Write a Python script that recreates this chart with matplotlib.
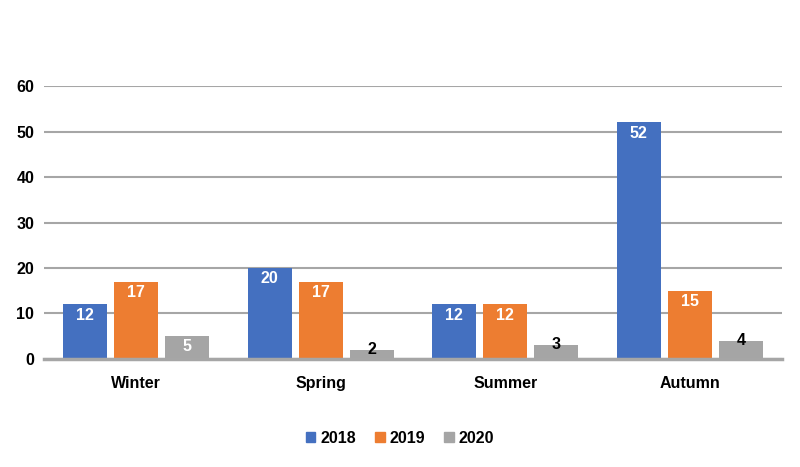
import numpy as np
import matplotlib.pyplot as plt
import matplotlib.patches as mpatches

plt.rcParams['font.family'] = ['Liberation Sans', 'DejaVu Sans']

# 数据
seasons = ['Winter', 'Spring', 'Summer', 'Autumn']
years = ['2018', '2019', '2020']
v2018 = [12, 20, 12, 52]
v2019 = [17, 17, 12, 15]
v2020 = [5, 2, 3, 4]
colors = ['#4470C0', '#ED7D31', '#A5A5A5']

fig = plt.figure(figsize=(8, 4.67), dpi=100)
ax = fig.add_axes([0.055, 0.2313, 0.9225, 0.5845])

x = np.arange(len(seasons))
w = 0.24
step = 0.277
series = [v2018, v2019, v2020]
for i, (vals, c) in enumerate(zip(series, colors)):
    xs = x + (i - 1) * step
    ax.bar(xs, vals, width=w, color=c, zorder=3)
    for xi, v in zip(xs, vals):
        if v >= 5:
            ax.text(xi, v - 0.7, str(v), ha='center', va='top', color='white',
                    fontsize=11.5, fontweight='bold', zorder=4)
        else:
            ax.text(xi, v + 0.1, str(v), ha='center', va='center', color='black',
                    fontsize=11.5, fontweight='bold', zorder=4)

ax.set_xlim(-0.5, 3.5)
ax.set_ylim(0, 60)
ax.set_yticks(range(0, 61, 10))
ax.set_xticks(x)
ax.set_xticklabels(seasons, fontsize=11.5, fontweight='bold')
for lab in ax.get_yticklabels():
    lab.set_fontsize(11.5)
    lab.set_fontweight('bold')
ax.tick_params(length=0)
ax.tick_params(axis='x', pad=12)
ax.tick_params(axis='y', pad=7)
ax.yaxis.grid(True, color='#A6A6A6', linewidth=1.5, zorder=0)
for s in ['top', 'right', 'left']:
    ax.spines[s].set_visible(False)
ax.spines['bottom'].set_color('#A6A6A6')
ax.spines['bottom'].set_linewidth(2.5)
ax.spines['bottom'].set_zorder(5)

handles = [mpatches.Patch(color=c, label=y) for c, y in zip(colors, years)]
fig.legend(handles=handles, loc='center', bbox_to_anchor=(0.5, 0.062), ncol=3,
           frameon=False, prop={'weight': 'bold', 'size': 11.5},
           handlelength=0.6, handleheight=0.6, handletextpad=0.3, columnspacing=1.2)

fig.savefig('out.png', dpi=100)
